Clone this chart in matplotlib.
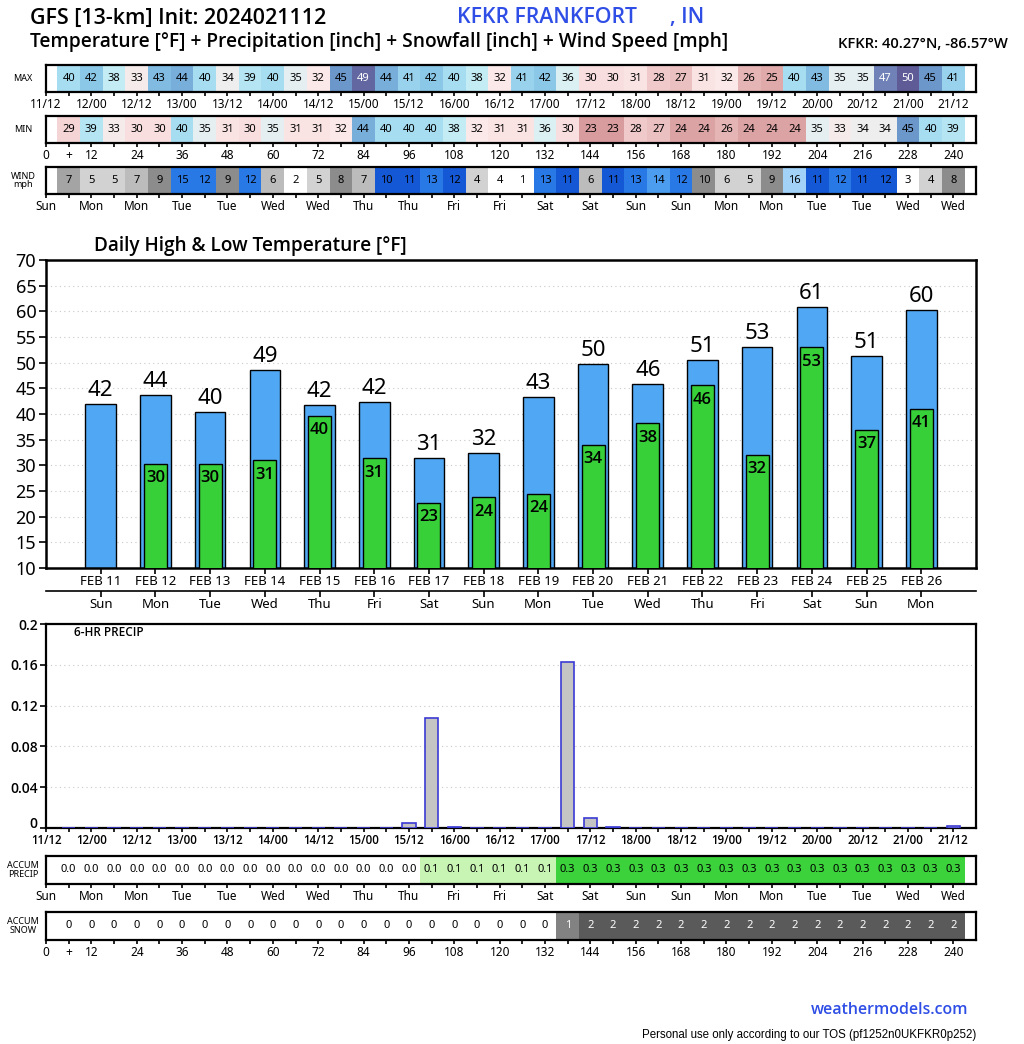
import numpy as np
import matplotlib.pyplot as plt
from matplotlib.colors import LinearSegmentedColormap

plt.rcParams['font.family'] = ['Noto Sans', 'DejaVu Sans']

W, H = 1024, 1044

# forecast hours of the 6-hourly cells
HOURS = np.arange(6, 241, 6)

max_temp = [40, 42, 38, 33, 43, 44, 40, 34, 39, 40, 35, 32, 45, 49, 44, 41, 42, 40, 38, 32,
            41, 42, 36, 30, 30, 31, 28, 27, 31, 32, 26, 25, 40, 43, 35, 35, 47, 50, 45, 41]
min_temp = [29, 39, 33, 30, 30, 40, 35, 31, 30, 35, 31, 31, 32, 44, 40, 40, 40, 38, 32, 31,
            31, 36, 30, 23, 23, 28, 27, 24, 24, 26, 24, 24, 24, 35, 33, 34, 34, 45, 40, 39]
wind = [7, 5, 5, 7, 9, 15, 12, 9, 12, 6, 2, 5, 8, 7, 10, 11, 13, 12, 4, 4,
        1, 13, 11, 6, 11, 13, 14, 12, 10, 6, 5, 9, 16, 11, 12, 11, 12, 3, 4, 8]
precip_6h = [0, 0, 0, 0, 0, 0, 0, 0, 0, 0, 0, 0, 0, 0, 0, 0.005, 0.108, 0.0006, 0, 0,
             0, 0, 0.163, 0.0095, 0.0012, 0, 0, 0, 0, 0, 0, 0, 0, 0, 0, 0, 0, 0, 0, 0.0022]
accum_precip = [0.0] * 16 + [0.1] * 6 + [0.3] * 18
accum_snow = [0] * 22 + [1] + [2] * 17

day_labels = ['FEB 11', 'FEB 12', 'FEB 13', 'FEB 14', 'FEB 15', 'FEB 16', 'FEB 17', 'FEB 18',
              'FEB 19', 'FEB 20', 'FEB 21', 'FEB 22', 'FEB 23', 'FEB 24', 'FEB 25', 'FEB 26']
day_names = ['Sun', 'Mon', 'Tue', 'Wed', 'Thu', 'Fri', 'Sat', 'Sun',
             'Mon', 'Tue', 'Wed', 'Thu', 'Fri', 'Sat', 'Sun', 'Mon']
daily_high = [42.0, 43.7, 40.4, 48.6, 41.7, 42.3, 31.4, 32.4, 43.3, 49.7, 45.8, 50.6, 53.0, 60.8, 51.3, 60.3]
daily_low = [np.nan, 30.3, 30.3, 31.0, 39.6, 31.4, 22.7, 23.8, 24.4, 34.0, 38.2, 45.6, 32.0, 53.0, 36.9, 41.0]

date_labels = ['11/12', '12/00', '12/12', '13/00', '13/12', '14/00', '14/12', '15/00', '15/12', '16/00',
               '16/12', '17/00', '17/12', '18/00', '18/12', '19/00', '19/12', '20/00', '20/12', '21/00', '21/12']
weekday_labels = ['Sun', 'Mon', 'Mon', 'Tue', 'Tue', 'Wed', 'Wed', 'Thu', 'Thu', 'Fri', 'Fri',
                  'Sat', 'Sat', 'Sun', 'Sun', 'Mon', 'Mon', 'Tue', 'Tue', 'Wed', 'Wed']
hour_labels = ['0', '+', '12', '24', '36', '48', '60', '72', '84', '96', '108', '120',
               '132', '144', '156', '168', '180', '192', '204', '216', '228', '240']

# styles
BOLDISH = dict(family=['Open Sans', 'DejaVu Sans'], fontweight=600)
WHT, LG, MG, GR, DG = '#ffffff', '#d2d2d2', '#bcbcbc', '#a4a4a4', '#8c8c8c'
B1, B2, B3, B4 = '#1558d6', '#2878e6', '#4c9cf0', '#a2d2f8'
wind_colors = [GR, LG, LG, MG, DG, B2, B2, DG, B2, MG, WHT, LG, DG, MG, B1, B1, B2, B1, LG, WHT,
               WHT, B2, B1, MG, B1, B2, B3, B2, DG, LG, LG, DG, B4, B1, B2, B1, B1, WHT, LG, DG]

temp_cmap = LinearSegmentedColormap.from_list('temp', [
    (0.0, '#c98088'), (3 / 32, '#d89c9e'), (5 / 32, '#e0aaab'), (8 / 32, '#f0caca'),
    (10 / 32, '#f8dede'), (12 / 32, '#fbe8e8'), (14 / 32, '#efeeee'), (16 / 32, '#dcf0f3'),
    (18 / 32, '#c4ecf5'), (20 / 32, '#a8def0'), (22 / 32, '#8cc8e8'), (24 / 32, '#78b0dc'),
    (25 / 32, '#6c98cc'), (27 / 32, '#7082b8'), (30 / 32, '#5e5c98'), (1.0, '#56508c')])


def temp_color(v):
    return temp_cmap((v - 20) / 32)


def px_axes(fig, x0, y0, x1, y1):
    return fig.add_axes([x0 / W, 1 - y1 / H, (x1 - x0) / W, (y1 - y0) / H])


def strip(fig, y0, y1, vals, colors, texts, txt_colors, ticks, labels, minor, name):
    ax = px_axes(fig, 46, y0, 976, y1)
    ax.bar(HOURS, 1, width=6, color=colors, linewidth=0)
    for h, s, c in zip(HOURS, texts, txt_colors):
        ax.text(h, 0.5, s, ha='center', va='center', fontsize=8, color=c)
    ax.set_xlim(0, 246)
    ax.set_ylim(0, 1)
    ax.set_yticks([])
    ax.set_xticks(ticks)
    ax.set_xticklabels(labels, fontsize=8.5)
    ax.set_xticks(minor, minor=True)
    ax.tick_params(axis='x', which='both', length=3, width=1.2, pad=1)
    for s in ax.spines.values():
        s.set_linewidth(1.6)
    fig.text(23 / W, 1 - (y0 + y1) / 2 / H, name, ha='center', va='center',
             fontsize=6.5, linespacing=0.95)
    return ax


fig = plt.figure(figsize=(W / 100, H / 100), dpi=100)

date_ticks = np.arange(0, 241, 12)
date_minor = np.arange(6, 241, 12)
hour_ticks = [0, 6] + list(np.arange(12, 241, 12))
hour_minor = np.arange(18, 241, 12)

# header
fig.text(30 / W, 1 - 18 / H, 'GFS [13-km] Init: 2024021112', fontsize=15.4, va='center', **BOLDISH)
fig.text(457 / W, 1 - 18 / H, 'KFKR FRANKFORT      , IN', fontsize=15.3, color='#2f4ee6',
         va='center', **BOLDISH)
fig.text(30 / W, 1 - 42 / H, 'Temperature [°F] + Precipitation [inch] + Snowfall [inch] + Wind Speed [mph]',
         fontsize=13.8, va='center', **BOLDISH)
fig.text(838 / W, 1 - 44 / H, 'KFKR: 40.27°N, -86.57°W', fontsize=10.6, va='center', **BOLDISH)

# top strips
strip(fig, 65, 92, max_temp, [temp_color(v) for v in max_temp], [str(v) for v in max_temp],
      ['white' if v >= 46 else 'black' for v in max_temp], date_ticks, date_labels, date_minor, 'MAX')
strip(fig, 116, 143, min_temp, [temp_color(v) for v in min_temp], [str(v) for v in min_temp],
      ['white' if v >= 46 else 'black' for v in min_temp], hour_ticks, hour_labels, hour_minor, 'MIN')
strip(fig, 167, 194, wind, wind_colors, [str(v) for v in wind], ['black'] * len(wind),
      date_ticks, weekday_labels, date_minor, 'WIND\nmph')

# daily high / low
ax = px_axes(fig, 46, 260, 976, 568)
x = np.arange(len(day_labels))
ax.bar(x, daily_high, width=0.56, bottom=0, color='#50a8f5', edgecolor='black', linewidth=1, zorder=2)
ax.bar(x, daily_low, width=0.42, bottom=0, color='#38d038', edgecolor='black', linewidth=1, zorder=3)
for xi, hi, lo in zip(x, daily_high, daily_low):
    ax.text(xi, hi + 0.6, str(int(np.floor(hi + 0.5))), ha='center', va='bottom', fontsize=16, zorder=4)
    if not np.isnan(lo):
        ax.text(xi, lo - 2.8, str(int(np.floor(lo + 0.5))), ha='center', va='center', fontsize=12,
                zorder=4, **BOLDISH)
ax.set_xlim(-1, 16)
ax.set_ylim(10, 70)
ax.set_yticks(np.arange(10, 71, 5))
ax.tick_params(axis='y', labelsize=13, length=5, width=1.2, pad=2)
ax.set_xticks(x)
ax.set_xticklabels(day_labels, fontsize=9.5)
ax.tick_params(axis='x', length=4, width=1.2, pad=1)
ax.grid(axis='y', linestyle=(0, (1, 3)), color='#c8c8c8', linewidth=0.8, zorder=0)
for s in ax.spines.values():
    s.set_linewidth(1.8)
sec = ax.secondary_xaxis(-23 / 308)
sec.set_xticks(x)
sec.set_xticklabels(day_names, fontsize=9.5)
sec.tick_params(length=4, width=1.2, pad=1)
sec.spines['bottom'].set_linewidth(1.2)
fig.text(94 / W, 1 - 246 / H, 'Daily High & Low Temperature [°F]', fontsize=13.7, va='center', **BOLDISH)

# 6-hr precip
ax = px_axes(fig, 46, 624, 976, 828)
ax.bar(HOURS, precip_6h, width=3.5, color='#c4c4c4', edgecolor='#3a3ad4', linewidth=1.2, zorder=3)
ax.set_xlim(0, 246)
ax.set_ylim(0, 0.2)
ax.set_yticks([0, 0.04, 0.08, 0.12, 0.16, 0.2])
ax.set_yticklabels(['0', '0.04', '0.08', '0.12', '0.16', '0.2'], fontsize=10, **BOLDISH)
ax.get_yticklabels()[0].set_verticalalignment('baseline')
ax.set_xticks(date_ticks)
ax.set_xticklabels(date_labels, fontsize=8.3, **BOLDISH)
ax.set_xticks(date_minor, minor=True)
ax.tick_params(axis='x', which='both', length=3, width=1.2, pad=1)
ax.tick_params(axis='y', length=4, width=1.2, pad=2)
ax.grid(axis='y', linestyle=(0, (1, 3)), color='#c8c8c8', linewidth=0.8, zorder=0)
for s in ax.spines.values():
    s.set_linewidth(1.6)
ax.text(0.03, 0.96, '6-HR PRECIP', transform=ax.transAxes, fontsize=8.5, va='center', **BOLDISH)

# accumulations
ap_colors = ['#ffffff' if v == 0 else ('#c8f5b4' if v < 0.2 else '#3cd23c') for v in accum_precip]
strip(fig, 856, 884, accum_precip, ap_colors, ['%.1f' % v for v in accum_precip], ['black'] * 40,
      date_ticks, weekday_labels, date_minor, 'ACCUM\nPRECIP')
sn_colors = ['#ffffff' if v == 0 else ('#828282' if v == 1 else '#5a5a5a') for v in accum_snow]
strip(fig, 912, 940, accum_snow, sn_colors, [str(v) for v in accum_snow],
      ['black' if v == 0 else 'white' for v in accum_snow], hour_ticks, hour_labels, hour_minor,
      'ACCUM\nSNOW')

# footer
fig.text(968 / W, 1 - 1010 / H, 'weathermodels.com', fontsize=11.5, color='#2f4ee6',
         ha='right', va='center', **BOLDISH)
fig.text(976 / W, 1 - 1035 / H, 'Personal use only according to our TOS (pf1252n0UKFKR0p252)',
         fontsize=8.3, family='Liberation Sans', ha='right', va='center')

fig.savefig('out.png', dpi=100)
